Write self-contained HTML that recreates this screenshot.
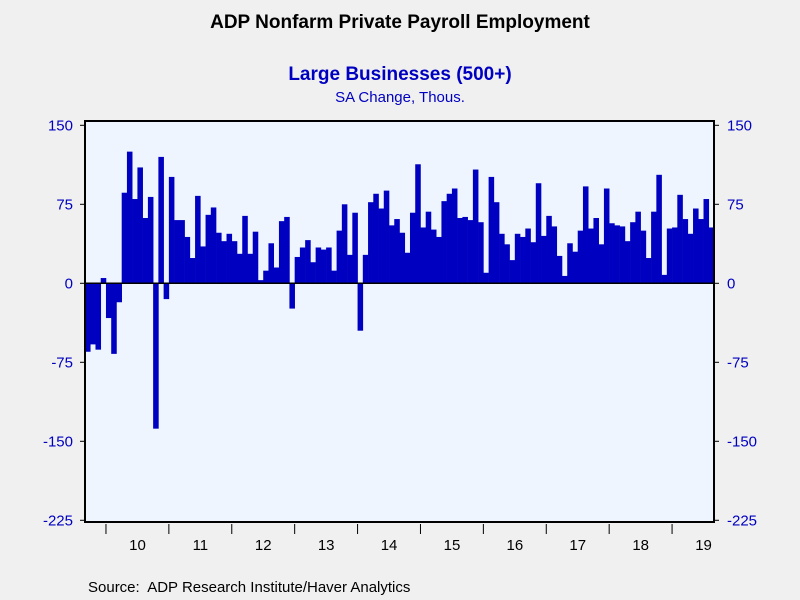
<!DOCTYPE html>
<html><head><meta charset="utf-8"><style>
body{margin:0;background:#f0f0f0;}
svg{display:block;font-family:"Liberation Sans",Arial,sans-serif;}
</style></head><body>
<svg id="chart" width="800" height="600">
<rect x="0" y="0" width="800" height="600" fill="#f0f0f0"/>
<text x="400" y="28" text-anchor="middle" font-size="19" font-weight="bold" fill="#000">ADP Nonfarm Private Payroll Employment</text>
<text x="400" y="80" text-anchor="middle" font-size="19" font-weight="bold" fill="#0000c0">Large Businesses (500+)</text>
<text x="400" y="102" text-anchor="middle" font-size="15" fill="#0000c0">SA Change, Thous.</text>
<rect x="85" y="121" width="629" height="401" fill="#eef5ff"/>
<g id="bars"></g>
<g id="axes"></g>
<rect x="85" y="121" width="629" height="401" fill="none" stroke="#000" stroke-width="2"/>
<text x="88" y="592" font-size="15" fill="#000">Source:&#160; ADP Research Institute/Haver Analytics</text>
</svg>
<script>
const values=[-65,-58,-63,5,-33,-67,-18,86,125,80,110,62,82,-138,120,-15,101,60,60,44,24,83,35,65,72,48,40,47,40,28,64,28,49,3,12,38,15,59,63,-24,25,34,41,20,34,32,34,12,50,75,27,67,-45,27,77,85,71,88,55,61,48,29,67,113,53,68,51,44,78,85,90,62,63,60,108,58,10,101,77,47,37,22,47,44,52,39,95,45,64,54,26,7,38,30,50,92,52,62,37,90,57,55,54,40,58,68,50,24,68,103,8,52,53,84,61,47,71,61,80,53];
const yTicks=[150,75,0,-75,-150,-225];
const yearLabels=["10","11","12","13","14","15","16","17","18","19"];
const startMonthOffset=4;
const NS="http://www.w3.org/2000/svg";
const L=85,R=714,T=121,B=522;
const bw=(R-L)/values.length;
function y(v){return 283.3-v*1.0533;}
function x(i){return L+i*bw;}
const bars=document.getElementById('bars');
values.forEach((v,i)=>{
  const r=document.createElementNS(NS,'rect');
  r.setAttribute('x',x(i));r.setAttribute('width',bw+0.3);
  r.setAttribute('y',Math.min(y(v),y(0)));r.setAttribute('height',Math.abs(y(v)-y(0)));
  r.setAttribute('fill','#0000c0');
  
  
  bars.appendChild(r);
});
const ax=document.getElementById('axes');
function line(x1,y1,x2,y2,w,name){const l=document.createElementNS(NS,'line');l.setAttribute('x1',x1);l.setAttribute('y1',y1);l.setAttribute('x2',x2);l.setAttribute('y2',y2);l.setAttribute('stroke','#000');l.setAttribute('stroke-width',w);


ax.appendChild(l);}
function text(tx,ty,s,anchor,fill,name){const t=document.createElementNS(NS,'text');t.setAttribute('x',tx);t.setAttribute('y',ty);t.setAttribute('text-anchor',anchor);t.setAttribute('font-size','15');t.setAttribute('fill',fill);t.textContent=s;


ax.appendChild(t);}
line(L,y(0),R,y(0),1.5,'zero-line');
yTicks.forEach(v=>{
  line(L-5,y(v),L,y(v),1,'y-tick-left');
  line(R,y(v),R+5,y(v),1,'y-tick-right');
  text(L-12,y(v)+5,String(v),'end','#0000c0','y-tick-label-left');
  text(R+13,y(v)+5,String(v),'start','#0000c0','y-tick-label-right');
});
yearLabels.forEach((s,k)=>{
  const x0=x(startMonthOffset+k*12);
  line(x0,B+2,x0,B+12,1,'x-tick');
  text(x0+31.5,B+28,s,'middle','#000','x-tick-label');
});
</script>
</body></html>
